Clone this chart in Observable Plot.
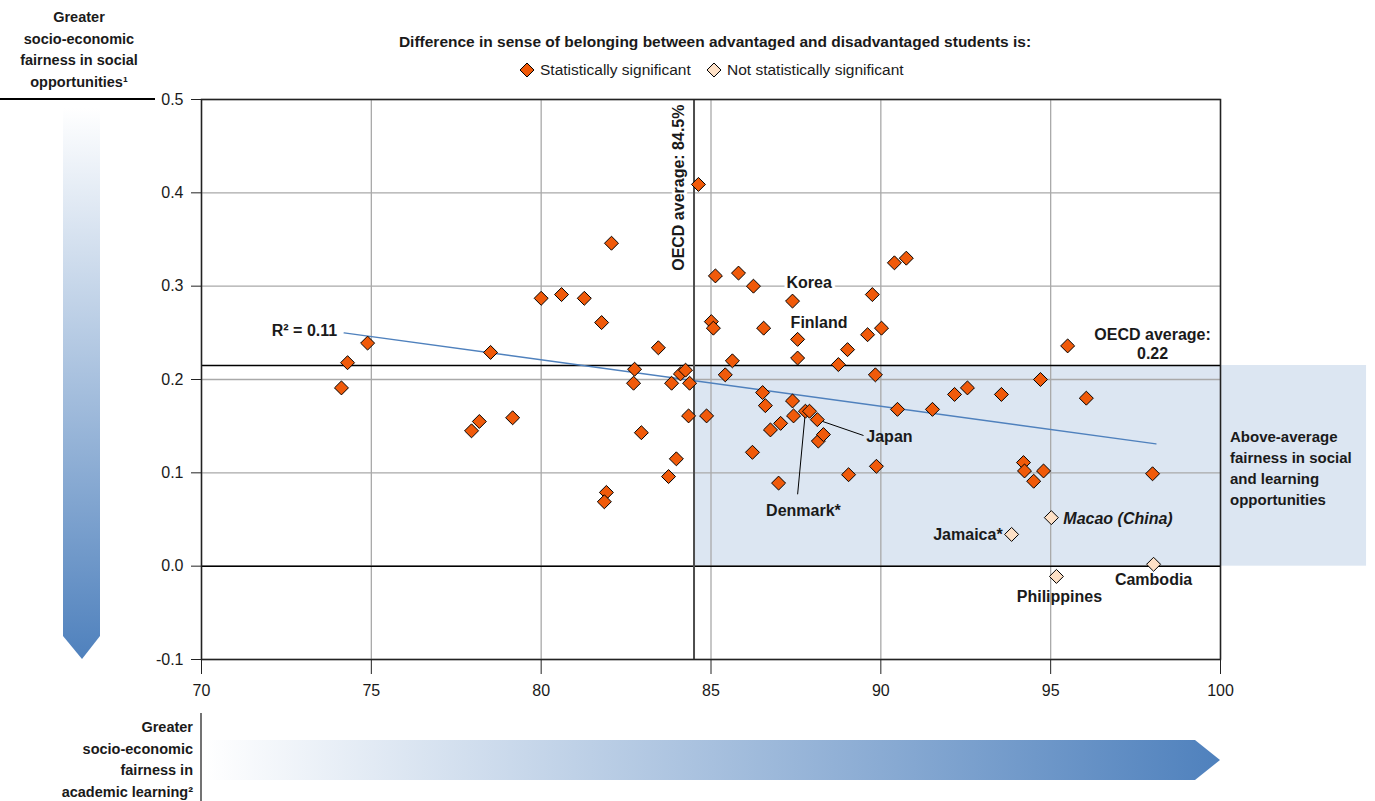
<!DOCTYPE html>
<html><head><meta charset="utf-8">
<script src="https://cdn.jsdelivr.net/npm/d3@7"></script>
<script src="https://cdn.jsdelivr.net/npm/@observablehq/plot@0.6"></script>
<style>
html,body{margin:0;padding:0;background:#fff;}
#chart{width:1375px;height:801px;overflow:hidden;}
</style>
</head><body><div id="chart"></div>
<script>
// ---------- DATA ----------
// Statistically significant differences
const sigX = [74.12,74.30,74.89,77.95,78.18,78.51,79.16,80.00,80.60,81.27,81.78,81.92,81.86,82.07,82.72,82.75,82.95,83.45,83.75,83.84,83.98,84.10,84.25,84.34,84.37,84.63,84.87,85.01,85.07,85.13,85.42,85.63,85.81,86.22,86.25,86.52,86.55,86.60,86.75,86.99,87.05,87.40,87.40,87.43,87.55,87.55,87.78,87.90,88.13,88.16,88.31,88.75,89.02,89.05,89.61,89.75,89.84,89.87,90.02,90.40,90.49,90.75,91.52,92.17,92.55,93.55,94.20,94.23,94.50,94.70,94.79,95.50,96.05,98.00];
const sigY = [0.191,0.218,0.239,0.145,0.155,0.229,0.159,0.287,0.291,0.287,0.261,0.079,0.069,0.346,0.196,0.211,0.143,0.234,0.096,0.196,0.115,0.206,0.210,0.161,0.196,0.409,0.161,0.262,0.255,0.311,0.205,0.220,0.314,0.122,0.300,0.186,0.255,0.172,0.146,0.089,0.153,0.284,0.177,0.161,0.243,0.223,0.166,0.166,0.157,0.134,0.141,0.216,0.232,0.098,0.248,0.291,0.205,0.107,0.255,0.325,0.168,0.330,0.168,0.184,0.191,0.184,0.111,0.102,0.091,0.200,0.102,0.236,0.180,0.099];
// Not statistically significant
const nsNames = ["Jamaica*","Macao (China)","Philippines","Cambodia"];
const nsX = [93.85,95.02,95.17,98.03];
const nsY = [0.034,0.052,-0.011,0.002];
// Labelled significant countries
const labNames = ["Korea","Finland","Japan","Denmark*"];
const labX = [87.40,87.55,88.13,87.78];
const labY = [0.284,0.243,0.157,0.166];
// Averages and fit
const oecdX = 84.5, oecdXText = "84.5%";
const oecdY = 0.215, oecdYText = "0.22";
const trendX = [74.2, 98.1];
const trendY = [0.250, 0.131];
const r2Text = "0.11";
// Ticks
const xTicks = [70,75,80,85,90,95,100];
const yTicks = [-0.1,0,0.1,0.2,0.3,0.4,0.5];

// ---------- LAYOUT / STYLE ----------
const FONT = "'Liberation Sans', Arial, Helvetica, sans-serif";
const ORANGE = "#f05a0a", PEACH = "#fde0c6", SHADE = "#dce6f2", BLUE = "#4f81bd";
const SHADE_RIGHT = 104.3;
const labelStyle = {
  "Korea":        {dx: -6, dy: -18, anchor: "start", halo: true},
  "Finland":      {dx: -7, dy: -16, anchor: "start", halo: true},
  "Japan":        {dx: 49, dy: 17,  anchor: "start"},
  "Denmark*":     {dx: -2, dy: 100, anchor: "middle"},
  "Jamaica*":     {dx: -9, dy: 0,   anchor: "end"},
  "Macao (China)":{dx: 12, dy: 1,   anchor: "start", italic: true},
  "Philippines":  {dx: 3,  dy: 20,  anchor: "middle"},
  "Cambodia":     {dx: 0,  dy: 16,  anchor: "middle"}
};
const leaderEnds = {"Japan": [89.49, 0.140], "Denmark*": [87.55, 0.077]};

const sig = sigX.map((x, i) => ({x, y: sigY[i]}));
const ns = nsX.map((x, i) => ({x, y: nsY[i], name: nsNames[i]}));
const labelled = [
  ...labNames.map((n, i) => ({name: n, x: labX[i], y: labY[i]})),
  ...ns
];
const trend = trendX.map((x, i) => ({x, y: trendY[i]}));
const leaders = labelled.filter(d => leaderEnds[d.name]).map(d => ({x1: d.x, y1: d.y, x2: leaderEnds[d.name][0], y2: leaderEnds[d.name][1]}));

const labelMarks = labelled.map(d => {
  const s = labelStyle[d.name];
  return Plot.text([d], {
    x: "x", y: "y", text: "name", dx: s.dx, dy: s.dy, textAnchor: s.anchor,
    fontWeight: "bold", fontSize: 16, fontStyle: s.italic ? "italic" : "normal",
    fill: "#1a1a1a", stroke: s.halo ? "white" : null, strokeWidth: s.halo ? 6 : 0
  });
});

const plot = Plot.plot({
  width: 1375, height: 801,
  marginTop: 99, marginBottom: 142, marginLeft: 201, marginRight: 155,
  style: {fontFamily: FONT, fontSize: "16px", color: "#1a1a1a", background: "white"},
  x: {domain: [70, 100], label: null},
  y: {domain: [-0.1, 0.5], label: null},
  marks: [
    Plot.rect([{x1: oecdX, x2: SHADE_RIGHT, y1: 0, y2: oecdY}], {x1: "x1", x2: "x2", y1: "y1", y2: "y2", fill: SHADE}),
    Plot.gridX(xTicks, {stroke: "#a9a9a9", strokeOpacity: 1, strokeWidth: 1.3}),
    Plot.gridY(yTicks, {stroke: "#a9a9a9", strokeOpacity: 1, strokeWidth: 1.3}),
    Plot.ruleY([0], {stroke: "#000", strokeWidth: 1.5}),
    Plot.ruleY([oecdY], {stroke: "#000", strokeWidth: 1.5}),
    Plot.ruleX([oecdX], {stroke: "#4d4d4d", strokeWidth: 2}),
    Plot.frame({stroke: "#222", strokeWidth: 1.5}),
    Plot.axisX(xTicks, {tickSize: 15, tickPadding: 10, stroke: "#222", fontSize: 16, tickFormat: d => String(d)}),
    Plot.axisY(yTicks, {tickSize: 10, tickPadding: 8, stroke: "#222", fontSize: 16, tickFormat: d => d.toFixed(1)}),
    Plot.line(trend, {x: "x", y: "y", stroke: BLUE, strokeWidth: 1.3}),
    Plot.text([{x: trendX[0], y: trendY[0], t: "R\u00b2 = " + r2Text}], {x: "x", y: "y", text: "t", dx: -7, dy: -2, textAnchor: "end", fontWeight: "bold", fontSize: 16, fill: "#1a1a1a"}),
    Plot.text([{x: oecdX, t: "OECD average: " + oecdXText}], {x: "x", text: "t", frameAnchor: "top", rotate: -90, textAnchor: "end", dx: -21, dy: 5, fontWeight: "bold", fontSize: 16, fill: "#1a1a1a", stroke: "white", strokeWidth: 6}),
    Plot.text([{x: 98, y: oecdY, t: "OECD average:\n" + oecdYText}], {x: "x", y: "y", text: "t", dy: -22, lineHeight: 1.15, textAnchor: "middle", fontWeight: "bold", fontSize: 16, fill: "#1a1a1a"}),
    Plot.link(leaders, {x1: "x1", y1: "y1", x2: "x2", y2: "y2", stroke: "#000", strokeWidth: 1}),
    ...labelMarks,
    Plot.dot(sig, {x: "x", y: "y", symbol: "diamond2", r: 6.3, fill: ORANGE, stroke: "#000", strokeWidth: 1}),
    Plot.dot(ns, {x: "x", y: "y", symbol: "diamond2", r: 6.3, fill: PEACH, stroke: "#000", strokeWidth: 1})
  ]
});

document.getElementById("chart").appendChild(plot);

// ---------- DECORATIONS ----------
const svg = d3.select(plot);
const defs = svg.insert("defs", ":first-child");
const gv = defs.append("linearGradient").attr("id", "gv").attr("x1", 0).attr("y1", 0).attr("x2", 0).attr("y2", 1);
gv.append("stop").attr("offset", "0%").attr("stop-color", "#ffffff");
gv.append("stop").attr("offset", "100%").attr("stop-color", BLUE);
const gh = defs.append("linearGradient").attr("id", "gh").attr("x1", 0).attr("y1", 0).attr("x2", 1).attr("y2", 0);
gh.append("stop").attr("offset", "0%").attr("stop-color", "#ffffff");
gh.append("stop").attr("offset", "100%").attr("stop-color", BLUE);

const deco = svg.append("g").attr("font-family", FONT).attr("fill", "#1a1a1a").attr("text-anchor", "start");
deco.append("path").attr("d", "M63,108 L100,108 L100,636 L82,659 L63,636 Z").attr("fill", "url(#gv)");
deco.append("path").attr("d", "M204,740 L1195,740 L1220,760 L1195,780 L204,780 Z").attr("fill", "url(#gh)");
deco.append("line").attr("x1", 0).attr("x2", 155).attr("y1", 99).attr("y2", 99).attr("stroke", "#000").attr("stroke-width", 2);
deco.append("line").attr("x1", 201).attr("x2", 201).attr("y1", 713).attr("y2", 801).attr("stroke", "#444").attr("stroke-width", 1.5);

const leftTitle = ["Greater", "socio-economic", "fairness in social", "opportunities\u00b9"];
leftTitle.forEach((t, i) => deco.append("text").attr("x", 79).attr("y", 17 + i * 21.7).attr("dy", "0.35em")
  .attr("text-anchor", "middle").attr("font-weight", "bold").attr("font-size", 14.5).text(t));
const bottomTitle = ["Greater", "socio-economic", "fairness in", "academic learning\u00b2"];
bottomTitle.forEach((t, i) => deco.append("text").attr("x", 193).attr("y", 727 + i * 21.7).attr("dy", "0.35em")
  .attr("text-anchor", "end").attr("font-weight", "bold").attr("font-size", 14.5).text(t));
const quadText = ["Above-average", "fairness in social", "and learning", "opportunities"];
quadText.forEach((t, i) => deco.append("text").attr("x", 1230).attr("y", 437 + i * 21).attr("dy", "0.35em")
  .attr("text-anchor", "start").attr("font-weight", "bold").attr("font-size", 15).text(t));

// legend
deco.append("text").attr("x", 715).attr("y", 42).attr("dy", "0.35em").attr("text-anchor", "middle")
  .attr("font-weight", "bold").attr("font-size", 15.5).text("Difference in sense of belonging between advantaged and disadvantaged students is:");
const sym = d3.symbol(d3.symbolDiamond2, Math.PI * 6.3 * 6.3);
const legendItems = [{label: "Statistically significant", fill: ORANGE, cx: 527}, {label: "Not statistically significant", fill: PEACH, cx: 714}];
legendItems.forEach(d => {
  deco.append("path").attr("d", sym()).attr("transform", `translate(${d.cx},70)`).attr("fill", d.fill).attr("stroke", "#000");
  deco.append("text").attr("x", d.cx + 13).attr("y", 70).attr("dy", "0.35em").attr("text-anchor", "start").attr("font-size", 15.5).text(d.label);
});
</script>
</body></html>
